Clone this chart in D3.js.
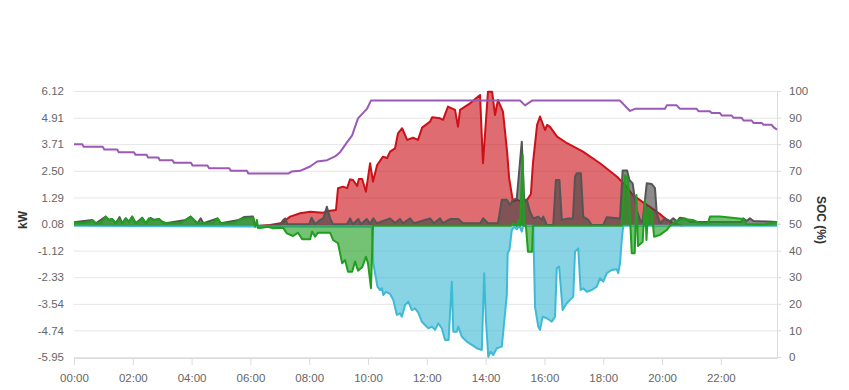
<head>
  <meta charset="utf-8">
  <script src="https://d3js.org/d3.v7.min.js"></script>
  <style>
    body { margin: 0; background: #fff; }
    text { font-family: 'Liberation Sans', Arial, sans-serif; }
  </style>
</head>
<body>
<script>
// values; times are hours of the day
var kwTicks = [6.12, 4.91, 3.71, 2.50, 1.29, 0.08, -1.12, -2.33, -3.54, -4.74, -5.95];
var socTicks = [0, 10, 20, 30, 40, 50, 60, 70, 80, 90, 100];
var hourTicks = [0, 2, 4, 6, 8, 10, 12, 14, 16, 18, 20, 22];

var solarT = [6.3, 6.67, 7.07, 7.35, 7.69, 8.03, 8.47, 8.71, 8.91, 8.98, 9.15, 9.29, 9.39, 9.49, 9.63, 9.69, 9.8, 9.93, 10.07, 10.17, 10.31, 10.51, 10.65, 10.75, 10.92, 11.02, 11.16, 11.33, 11.53, 11.7, 11.84, 12.11, 12.18, 12.45, 12.55, 12.72, 12.96, 13.06, 13.13, 13.47, 13.81, 13.91, 14.08, 14.22, 14.32, 14.42, 14.59, 14.73, 14.8, 14.93, 15.07, 15.24, 15.41, 15.54, 15.61, 15.75, 15.85, 16.02, 16.09, 16.19, 16.43, 16.77, 17.31, 17.89, 18.47, 18.74, 19.01, 19.32, 19.59, 19.93, 20.17, 20.37, 20.71];
var solarKW = [0, 0.04, 0.13, 0.42, 0.57, 0.64, 0.6, 0.69, 0.72, 1.71, 1.78, 1.71, 2.11, 2.08, 1.81, 2.13, 2.13, 1.55, 2.84, 2.01, 2.76, 3.14, 3.08, 3.37, 3.52, 4.2, 4.43, 3.9, 4.0, 3.9, 4.46, 4.73, 4.93, 4.88, 4.81, 5.41, 5.26, 4.5, 5.26, 5.56, 5.94, 2.84, 6.09, 6.09, 5.03, 5.71, 5.18, 3.37, 2.16, 1.1, 1.18, 1.1, 1.18, 1.45, 2.85, 4.58, 4.96, 4.35, 4.58, 4.49, 4.05, 3.75, 3.37, 2.84, 2.23, 1.86, 1.4, 1.1, 0.86, 0.54, 0.27, 0.12, 0];

var loadT = [0, 0.62, 0.74, 1.08, 1.19, 1.3, 1.42, 1.55, 1.64, 1.76, 1.87, 1.98, 2.1, 2.32, 2.44, 2.6, 2.72, 2.89, 3.0, 3.12, 3.8, 3.97, 4.08, 4.2, 4.31, 4.4, 4.88, 4.99, 5.61, 5.78, 6.09, 6.16, 6.5, 7.0, 7.12, 7.18, 7.26, 8.0, 8.08, 8.2, 8.37, 8.48, 8.6, 8.71, 8.81, 9.29, 9.39, 9.49, 9.67, 9.76, 9.96, 10.07, 10.18, 10.3, 10.75, 10.92, 11.09, 11.19, 11.43, 11.56, 12.11, 12.24, 12.45, 12.55, 12.79, 13.07, 13.23, 13.81, 13.92, 14.08, 14.42, 14.55, 14.72, 14.83, 14.93, 15.06, 15.23, 15.31, 15.4, 15.51, 15.62, 15.79, 15.91, 15.96, 16.08, 16.3, 16.39, 16.51, 16.59, 16.81, 16.97, 17.04, 17.1, 17.24, 17.32, 17.49, 17.61, 18.0, 18.12, 18.57, 18.66, 18.81, 18.89, 19.0, 19.08, 19.14, 19.25, 19.34, 19.48, 19.65, 19.76, 19.82, 19.93, 20.1, 20.27, 20.38, 20.51, 20.61, 20.78, 20.95, 22.7, 22.76, 22.88, 22.99, 23.11, 23.91];
var loadKW = [0.16, 0.27, 0.12, 0.42, 0.27, 0.31, 0.12, 0.4, 0.12, 0.34, 0.19, 0.42, 0.12, 0.37, 0.12, 0.36, 0.27, 0.31, 0.19, 0.12, 0.27, 0.42, 0.27, 0.12, 0.34, 0.12, 0.34, 0.12, 0.27, 0.4, 0.42, 0.01, 0.01, 0.04, 0.27, 0.34, 0.07, 0.07, 0.37, 0.07, 0.27, 0.34, 0.87, 0.34, 0.07, 0.09, 0.34, 0.07, 0.31, 0.07, 0.31, 0.09, 0.34, 0.12, 0.34, 0.13, 0.31, 0.12, 0.34, 0.12, 0.34, 0.12, 0.34, 0.12, 0.31, 0.31, 0.12, 0.12, 0.34, 0.12, 0.12, 1.18, 1.18, 0.95, 1.18, 1.25, 3.82, 1.18, 1.18, 0.64, 0.34, 0.42, 0.27, 0.42, 0.04, 0.04, 2.08, 2.08, 0.27, 0.34, 0.34, 2.23, 2.39, 2.39, 0.42, 0.27, 0.04, 0.04, 0.39, 0.34, 2.51, 2.51, 2.08, 1.93, 1.18, 0.72, 0.27, 0.18, 1.93, 1.9, 1.71, 0.57, 0.12, 0.34, 0.22, 0.34, 0.2, 0.37, 0.34, 0.18, 0.18, 0.34, 0.22, 0.34, 0.22, 0.18];

var battT = [0, 0.23, 0.51, 0.62, 0.74, 0.91, 1.08, 1.19, 1.3, 1.42, 1.53, 1.64, 1.76, 1.87, 1.98, 2.1, 2.21, 2.32, 2.44, 2.55, 2.72, 2.89, 3.0, 3.12, 3.63, 3.8, 3.97, 4.08, 4.2, 4.71, 4.88, 4.99, 5.44, 5.61, 5.78, 6.09, 6.16, 6.22, 6.26, 6.39, 6.6, 6.77, 7.11, 7.24, 7.45, 7.62, 7.76, 8.03, 8.1, 8.2, 8.3, 8.71, 8.81, 8.98, 9.12, 9.22, 9.32, 9.46, 9.56, 9.66, 9.8, 9.93, 10.0, 10.1, 10.17, 14.86, 14.93, 15.06, 15.13, 15.17, 15.26, 15.31, 15.37, 15.44, 15.58, 15.61, 18.63, 18.74, 18.85, 18.97, 19.07, 19.13, 19.18, 19.34, 19.42, 19.47, 19.53, 19.65, 19.73, 19.93, 20.16, 20.27, 20.48, 20.71, 21.05, 21.29, 21.56, 21.63, 21.97, 22.38, 22.76, 22.86, 23.44, 23.67, 23.91];
var battKW = [0.16, 0.12, 0.16, 0.27, 0.12, 0.12, 0.42, 0.27, 0.31, 0.12, 0.31, 0.12, 0.34, 0.19, 0.42, 0.12, 0.19, 0.37, 0.12, 0.34, 0.27, 0.31, 0.19, 0.12, 0.12, 0.27, 0.42, 0.27, 0.12, 0.12, 0.34, 0.12, 0.12, 0.27, 0.34, 0.37, -0.04, 0.27, -0.1, -0.08, -0.04, -0.11, -0.08, -0.34, -0.46, -0.31, -0.61, -0.61, -0.26, -0.49, -0.31, -0.31, -0.64, -0.79, -1.7, -1.55, -2.08, -2.08, -1.62, -2.03, -1.88, -1.4, -1.7, -2.83, 0, 0, 0.12, 0, 0.27, 0, 3.22, 0, 0, -1.17, -1.17, 0, 0, 2.31, 2.08, -1.24, -1.24, 1.4, -0.91, -0.73, 1.18, -0.64, 0.81, 0.63, -0.49, -0.41, -0.19, 0, 0.22, 0.31, 0.27, 0.12, 0.12, 0.42, 0.42, 0.37, 0.31, 0.09, 0.06, 0.12, 0.18];

var gridT = [0, 10.13, 10.18, 10.24, 10.32, 10.41, 10.47, 10.52, 10.61, 10.75, 10.86, 10.98, 11.09, 11.15, 11.26, 11.37, 11.49, 11.6, 11.71, 11.83, 11.94, 12.05, 12.17, 12.28, 12.39, 12.51, 12.62, 12.74, 12.85, 12.9, 13.02, 13.07, 13.19, 13.36, 13.53, 13.7, 13.87, 13.95, 14.01, 14.09, 14.17, 14.26, 14.38, 14.55, 14.66, 14.72, 14.75, 14.81, 14.89, 14.97, 15.06, 15.15, 15.23, 15.28, 15.62, 15.68, 15.79, 15.85, 15.94, 16.08, 16.25, 16.36, 16.42, 16.5, 16.62, 16.76, 16.87, 16.98, 17.04, 17.15, 17.23, 17.32, 17.44, 17.61, 17.78, 17.89, 18.0, 18.12, 18.29, 18.46, 18.51, 18.57, 18.63, 18.68, 23.91];
var gridKW = [0, -0.04, -1.7, -2.15, -2.76, -2.91, -2.83, -3.14, -2.99, -3.09, -3.36, -4.04, -3.97, -4.12, -3.59, -3.44, -3.82, -3.74, -3.94, -4.35, -4.5, -4.65, -4.57, -4.72, -4.42, -4.65, -5.18, -5.18, -2.53, -4.8, -4.8, -4.57, -5.03, -5.25, -5.4, -5.55, -5.63, -2.15, -4.27, -5.94, -5.71, -5.86, -5.55, -5.48, -3.97, -3.14, -1.24, -1.09, -0.19, -0.04, -0.15, 0, -0.26, 0, 0, -3.67, -4.57, -4.72, -4.12, -4.19, -4.35, -4.12, -1.92, -1.85, -3.82, -3.51, -3.36, -3.21, -1.17, -1.02, -2.91, -2.83, -2.99, -2.91, -2.76, -2.38, -2.53, -2.15, -2.0, -1.97, -2.15, -1.7, -0.64, 0, 0];

var socT = [0, 0.28, 0.33, 0.98, 1.03, 1.47, 1.52, 2.04, 2.09, 2.47, 2.52, 2.87, 2.92, 3.35, 3.4, 3.98, 4.03, 4.54, 4.59, 5.28, 5.33, 5.88, 5.93, 7.3, 7.4, 7.69, 8.03, 8.27, 8.61, 8.88, 9.05, 9.29, 9.46, 9.66, 9.97, 10.1, 15.17, 15.34, 15.58, 18.57, 18.91, 19.08, 20.1, 20.16, 20.5, 20.61, 21.18, 21.24, 21.63, 21.69, 21.97, 22.03, 22.37, 22.43, 22.71, 22.77, 23.05, 23.11, 23.39, 23.45, 23.73, 23.79, 23.91];
var socPct = [80, 80, 79, 79, 78, 78, 77, 77, 76, 76, 75, 75, 74, 74, 73, 73, 72, 72, 71, 71, 70, 70, 69, 69, 69.7, 70, 71.6, 73.5, 74, 75.4, 77, 80.8, 83.3, 89.7, 93.4, 96.4, 96.4, 94.6, 96.4, 96.4, 92.5, 93.3, 93.3, 94.6, 94.6, 93.3, 93.3, 92.4, 92.4, 91.7, 91.7, 90.8, 90.8, 89.9, 89.9, 88.9, 88.9, 88.0, 88.0, 87.3, 87.3, 86.4, 85.5];

const w = 849;
const h = 390;
const padL = 74, padR = 777, padT = 91, padB = 357;

var svg = d3.select('body').append('svg')
  .attr('width', w)
  .attr('height', h);

const x = d3.scaleLinear().domain([0, 23.91]).range([padL, padR]);
const y = d3.scaleLinear().domain([-5.95, 6.12]).range([padB, padT]);
const ySoc = d3.scaleLinear().domain([0, 100]).range([padB, padT]);

// grid + left labels
var gy = svg.append('g')
  .attr('transform', `translate(${padL},0)`)
  .call(d3.axisLeft(y).tickValues(kwTicks).tickFormat(d => d.toFixed(2))
    .tickSize(-(padR - padL)).tickPadding(10));
gy.select('.domain').remove();
gy.selectAll('line').attr('stroke', '#e6e6e6');
gy.selectAll('text').attr('fill', '#666').style('font-size', '11.5px');

var gr = svg.append('g')
  .attr('transform', `translate(${padR},0)`)
  .call(d3.axisRight(ySoc).tickValues(socTicks).tickSize(4).tickSizeOuter(0).tickPadding(8));
gr.select('.domain').attr('stroke', '#dcdcdc');
gr.selectAll('line').attr('stroke', '#dcdcdc');
gr.selectAll('text').attr('fill', '#666').style('font-size', '11.5px');

var gx = svg.append('g')
  .attr('transform', `translate(0,${padB + 1})`)
  .call(d3.axisBottom(x).tickValues(hourTicks)
    .tickFormat(d => (d < 10 ? '0' : '') + d + ':00')
    .tickSize(7).tickSizeOuter(0).tickPadding(9));
gx.select('.domain').attr('stroke', '#dcdcdc');
gx.selectAll('line').attr('stroke', '#dcdcdc');
gx.selectAll('text').attr('fill', '#666').style('font-size', '11.5px');

svg.append('text')
  .attr('transform', 'translate(27,220) rotate(-90)')
  .attr('text-anchor', 'middle')
  .style('font-size', '12px').style('font-weight', 'bold').attr('fill', '#333')
  .text('kW');
svg.append('text')
  .attr('transform', 'translate(817,220) rotate(90)')
  .attr('text-anchor', 'middle')
  .style('font-size', '12px').style('font-weight', 'bold').attr('fill', '#333')
  .text('SOC (%)');

function series(ts, vs) {
  return ts.map((t, i) => [t, vs[i]]);
}

const area = d3.area().x(d => x(d[0])).y0(y(0)).y1(d => y(d[1]));
const line = d3.line().x(d => x(d[0])).y(d => y(d[1]));

var sets = [
  { data: series(solarT, solarKW), stroke: '#cc1118', fill: 'rgba(204,17,24,0.62)' },
  { data: series(loadT, loadKW), stroke: '#555555', fill: 'rgba(70,70,70,0.62)' },
  { data: series(gridT, gridKW), stroke: '#3fbad5', fill: 'rgba(63,186,213,0.62)' },
  { data: series(battT, battKW), stroke: '#1f9e1f', fill: 'rgba(31,158,31,0.62)' }
];

sets.forEach(s => {
  svg.append('path').datum(s.data)
    .attr('d', area).attr('fill', s.fill);
  svg.append('path').datum(s.data)
    .attr('d', line).attr('fill', 'none')
    .attr('stroke', s.stroke).attr('stroke-width', 2)
    .attr('stroke-linejoin', 'round');
});

svg.append('path').datum(series(socT, socPct))
  .attr('d', d3.line().x(d => x(d[0])).y(d => ySoc(d[1])))
  .attr('fill', 'none')
  .attr('stroke', '#9b59b6')
  .attr('stroke-width', 2)
  .attr('stroke-linejoin', 'round');
</script>
</body>
